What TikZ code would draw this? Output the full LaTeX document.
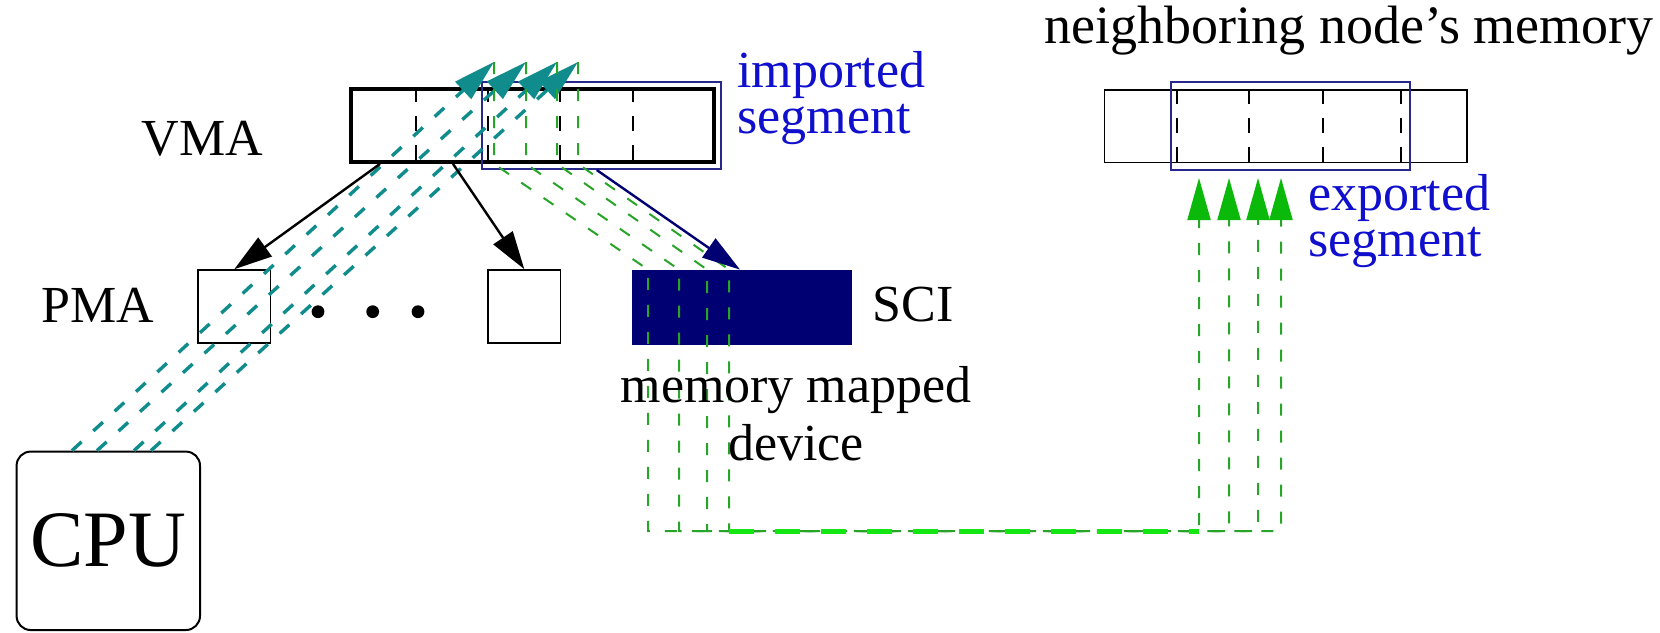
\documentclass[tikz,border=0pt]{standalone}
\usepackage{fontspec}
\setmainfont{Liberation Serif}
\usetikzlibrary{arrows.meta,calc}

\definecolor{accessteal}{RGB}{16,140,140}
\definecolor{routegreen}{RGB}{40,165,40}
\definecolor{exportgreen}{RGB}{10,185,10}
\definecolor{overlapgreen}{RGB}{20,230,20}
\definecolor{scinavy}{RGB}{0,0,115}
\definecolor{segblue}{RGB}{40,40,140}
\definecolor{labelblue}{RGB}{15,15,205}

\begin{document}
\begin{tikzpicture}[x=0.5pt, y=-0.5pt,
  lbl/.style={inner sep=0pt, font=\fontsize{26pt}{29pt}\selectfont},
  seglbl/.style={inner sep=0pt, font=\fontsize{26pt}{23pt}\selectfont, text=labelblue,
    align=left, anchor=north west},
  box/.style={draw, line width=0.8pt, inner sep=0pt},
  vmabox/.style={box, line width=1.9pt},
  segframe/.style={draw=segblue, line width=0.9pt, inner sep=0pt},
  cell/.style={line width=1pt, dash pattern=on 7.5pt off 7pt},
  ptr/.style={line width=1.2pt, -{Triangle[length=19pt,width=11.5pt]}},
  sciptr/.style={ptr, draw=scinavy},
  route/.style={draw=routegreen, line width=1pt, dash pattern=on 6pt off 7.5pt,
    -{Triangle[length=21pt,width=11.5pt,color=exportgreen]}},
  overlap/.style={draw=overlapgreen, line width=2.5pt, dash pattern=on 12.5pt off 10.5pt},
  access/.style={draw=accessteal, line width=1.7pt, dash pattern=on 6.5pt off 8pt,
    -{Triangle[length=21pt,width=11.5pt]}},
]
\useasboundingbox (0,0) rectangle (1660,632);

% ---- memory areas ----
\node[vmabox, minimum width=181.7pt, minimum height=36.5pt] (vma) at (532.3,125.5) {};
\node[segframe, minimum width=119.5pt, minimum height=43.7pt] (imp) at (601.2,125.4) {};
\foreach \x in {415.7,488,560,633}
  \draw[cell] (\x,0 |- vma.north) -- (\x,0 |- vma.south);

\node[box, minimum width=181.2pt, minimum height=36.3pt] (nbr) at (1285.5,126.3) {};
\node[segframe, minimum width=119.7pt, minimum height=44.2pt] (exp) at (1290.3,125.8) {};
\foreach \x in {1176.7,1249,1322.7,1401}
  \draw[cell] (\x,0 |- nbr.north) -- (\x,0 |- nbr.south);

\node[box, minimum width=36.3pt, minimum height=36.5pt] (pma1) at (234.3,306.5) {};
\node[box, minimum width=36.3pt, minimum height=36.5pt] (pma2) at (524.3,306.5) {};
\foreach \x in {318,372.7,418}
  \fill (\x,311.7) circle (3.2pt);

\node[fill=scinavy, draw=scinavy, inner sep=0pt, minimum width=109.5pt, minimum height=37pt] (sci) at (741.5,307) {};

\node[draw, line width=1pt, rounded corners=7pt, minimum width=91.7pt, minimum height=89.2pt,
  inner sep=0pt, font=\fontsize{40pt}{42pt}\selectfont] (cpu) at (108.3,540.8) {CPU};

% ---- CPU accesses and the SCI route to the exported segment ----
\foreach \k/\s/\a/\b/\c in {1/72/494/648/1199, 2/97/526/679/1229, 3/134/557/707/1258, 4/151/578/729/1281} {
  \coordinate (src-\k) at (\s,0 |- cpu.north);
  \coordinate (tap-\k) at (\a,62);
  \coordinate (vbot-\k) at (\a,0 |- vma.south);
  \coordinate (stop-\k) at (\b,0 |- sci.north);
  \coordinate (sbot-\k) at (\b,531);
  \coordinate (nbot-\k) at (\c,531);
  \coordinate (ntip-\k) at (\c,178);
}
\foreach \k in {1,...,4}
  \draw[access] (src-\k) -- (tap-\k);
\foreach \k in {1,...,4}
  \draw[route] (tap-\k) -- (vbot-\k) -- (stop-\k) -- (sbot-\k) -- (nbot-\k) -- (ntip-\k);
\draw[overlap] (sbot-4) -- (nbot-1);

% ---- address mappings ----
\coordinate (map-a) at (380,0 |- vma.south);
\coordinate (map-b) at (453,0 |- vma.south);
\coordinate (map-c) at (596.7,0 |- imp.south);
\coordinate (map-d) at (740,0 |- sci.north);
\draw[ptr] (map-a) -- (pma1.north);
\draw[ptr] (map-b) -- (pma2.north);
\draw[sciptr] (map-c) -- (map-d);

% ---- labels ----
\node[lbl, anchor=base] (vmalabel) at (202.5,155) {VMA};
\node[lbl, anchor=base] (pmalabel) at (97.5,322) {PMA};
\node[lbl, anchor=base] (scilabel) at (913,321) {SCI};
\node[lbl, align=center, anchor=north] (devlabel) at (796,366) {memory mapped\\device};
\node[seglbl] (implabel) at (737,51) {imported\\segment};
\node[seglbl] (explabel) at (1308,174) {exported\\segment};
\node[lbl, font=\fontsize{27pt}{30pt}\selectfont, anchor=base] (nbrlabel) at (1349,43) {neighboring node's memory};
\end{tikzpicture}
\end{document}
